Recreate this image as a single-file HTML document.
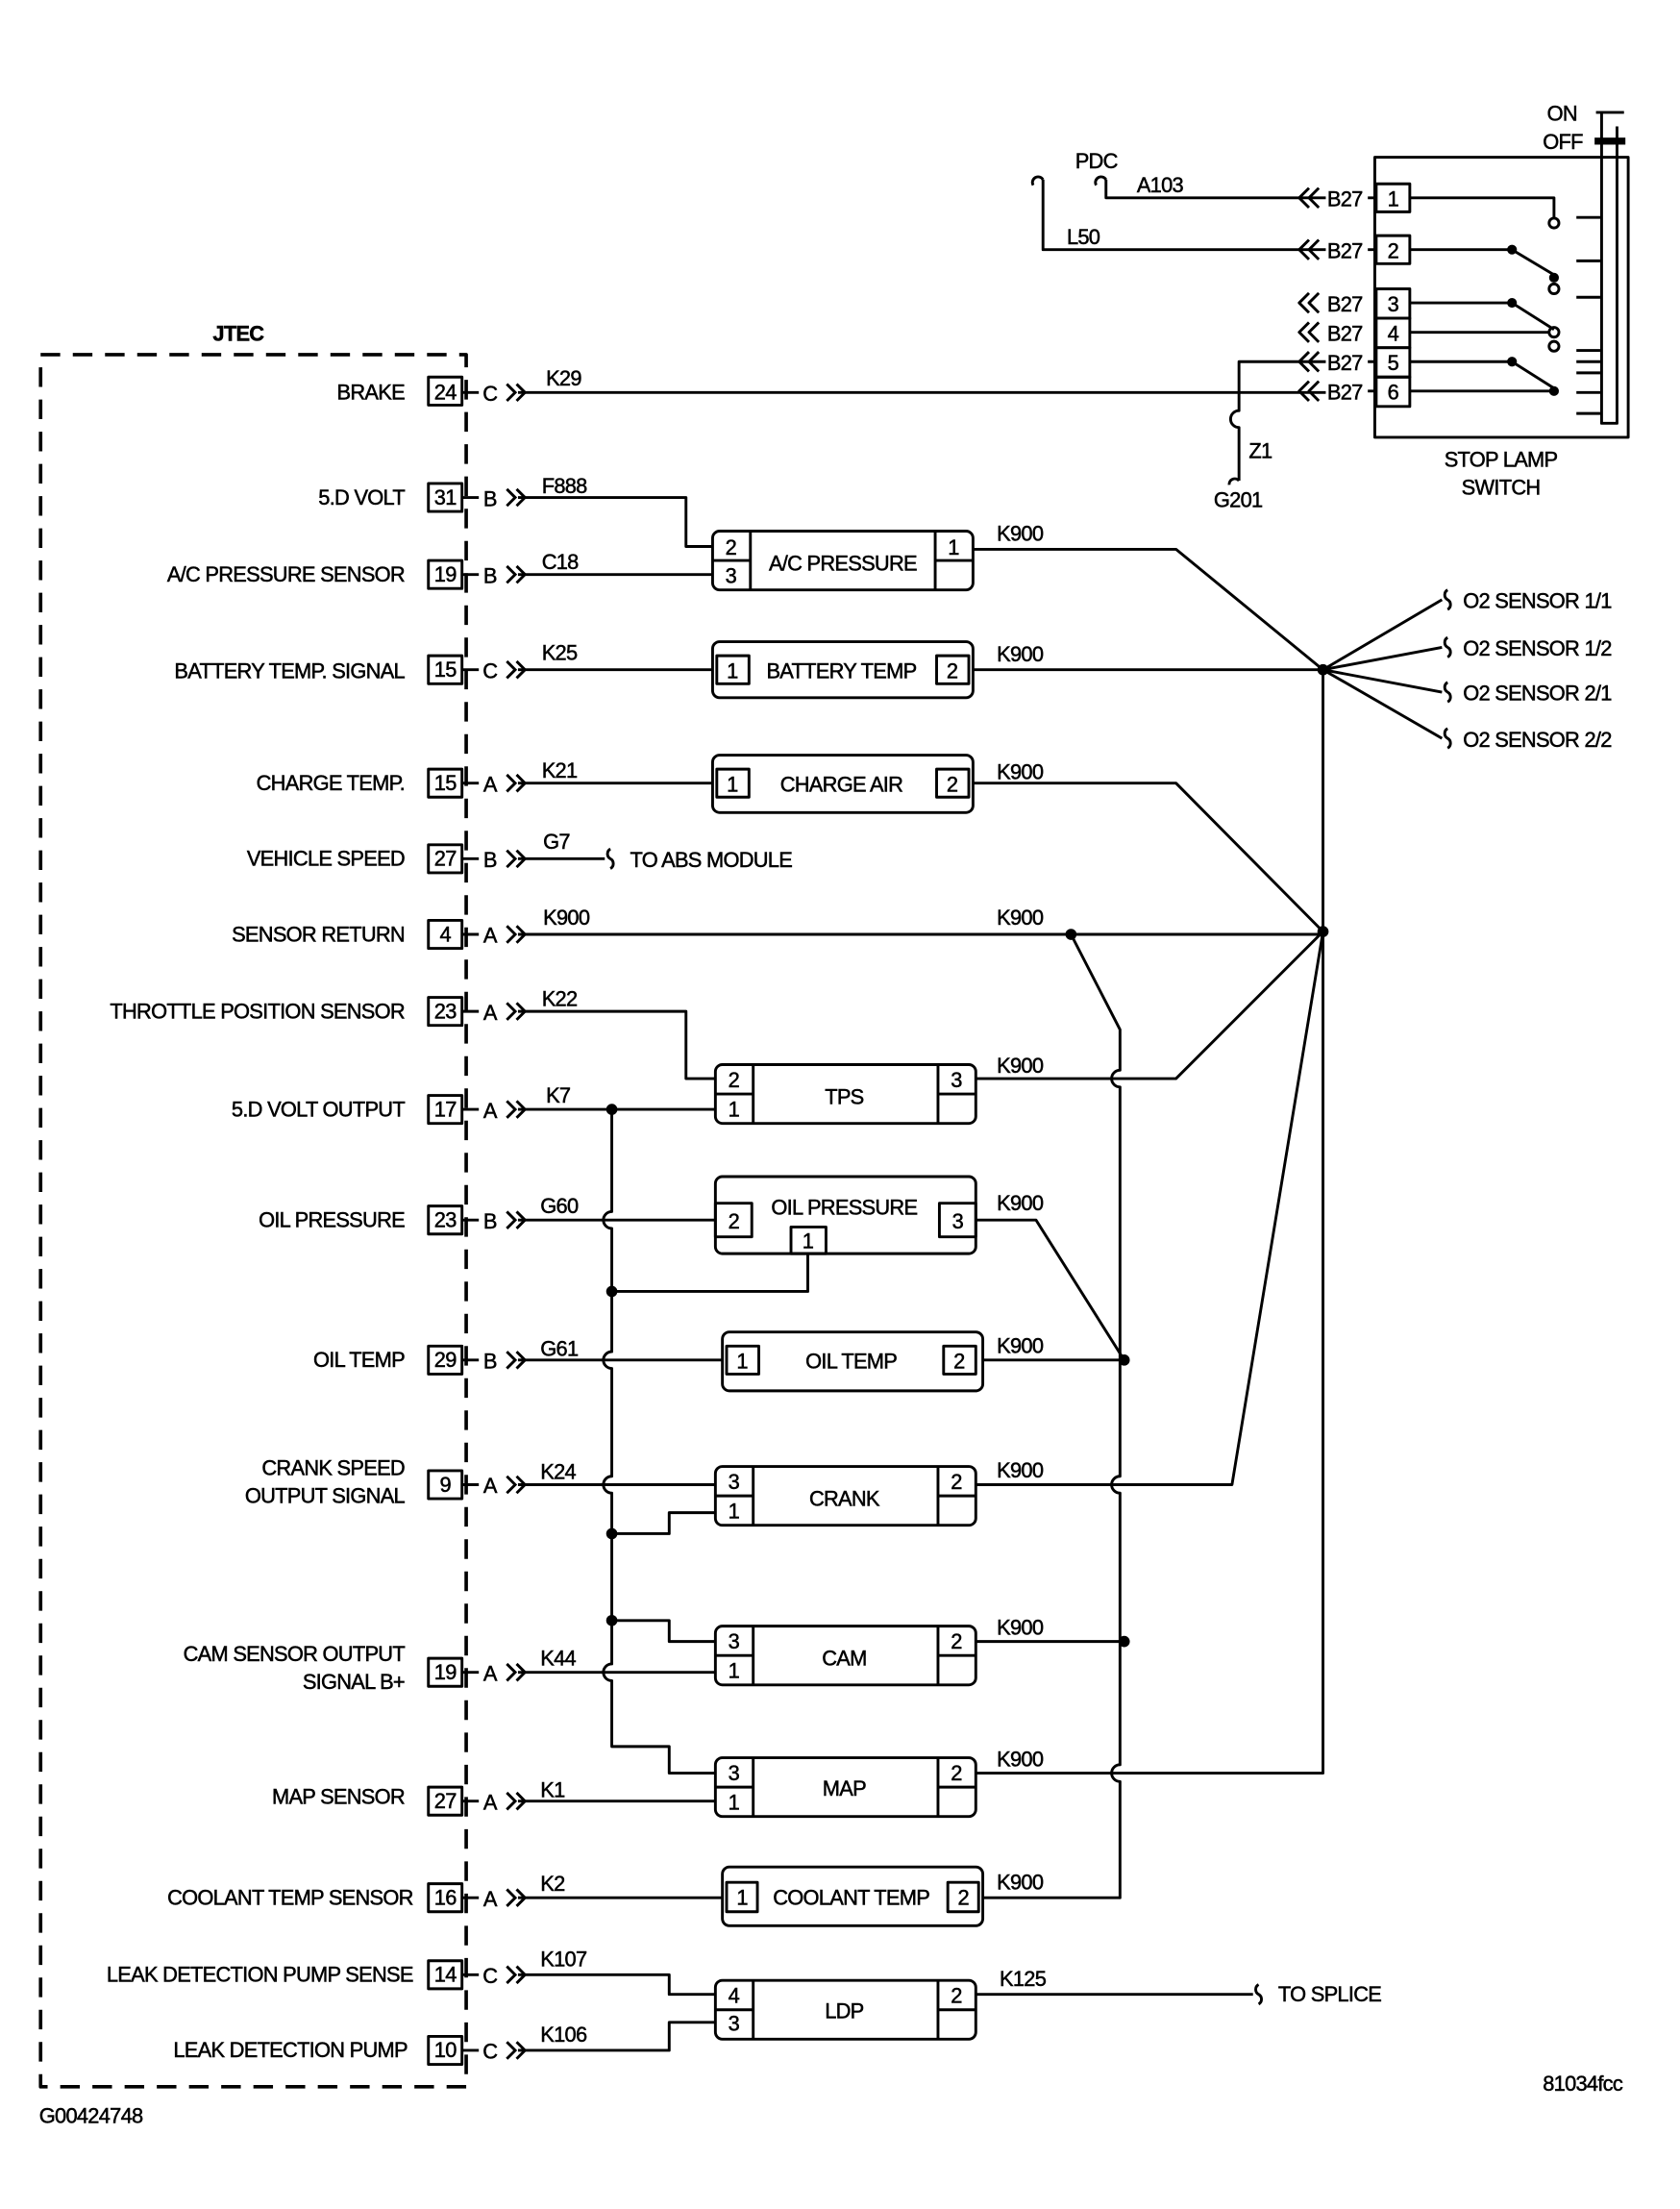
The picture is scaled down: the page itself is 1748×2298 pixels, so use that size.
<!DOCTYPE html>
<html><head><meta charset="utf-8"><style>
html,body{margin:0;padding:0;background:#fff}
svg{display:block}
text{font-family:"Liberation Sans",sans-serif;font-size:15px;fill:#000;stroke:#000;stroke-width:0.35px;letter-spacing:-0.5px}
.r{text-anchor:end}.m{text-anchor:middle}
</style></head><body>
<svg width="1748" height="2298" viewBox="0 0 1200 1577" xmlns="http://www.w3.org/2000/svg">
<g stroke="#000" stroke-width="2" fill="none" stroke-linejoin="round">
<rect x="29" y="253" width="304" height="1237" stroke-dasharray="14,9" stroke-width="2.5"/>
<rect x="306" y="269" width="24" height="20"/><rect x="306" y="345" width="24" height="20"/><rect x="306" y="400" width="24" height="20"/><rect x="306" y="468" width="24" height="20"/><rect x="306" y="549" width="24" height="20"/><rect x="306" y="603" width="24" height="20"/><rect x="306" y="657" width="24" height="20"/><rect x="306" y="712" width="24" height="20"/><rect x="306" y="782" width="24" height="20"/><rect x="306" y="861" width="24" height="20"/><rect x="306" y="961" width="24" height="20"/><rect x="306" y="1050" width="24" height="20"/><rect x="306" y="1184" width="24" height="20"/><rect x="306" y="1276" width="24" height="20"/><rect x="306" y="1345" width="24" height="20"/><rect x="306" y="1400" width="24" height="20"/><rect x="306" y="1454" width="24" height="20"/>
<path d="M330 280H342M330 355H342M330 410H342M330 478H342M330 559H342M330 613H342M330 667H342M330 722H342M330 792H342M330 871H342M330 971H342M330 1060H342M330 1194H342M330 1286H342M330 1355H342M330 1410H342M330 1464H342"/>
<path d="M370 280H947"/>
<path d="M370 355H490V390H509"/>
<path d="M370 410H509"/>
<path d="M370 478H509"/>
<path d="M370 559H509"/>
<path d="M370 613H432"/><path d="M436 606a4 4 0 0 0 0 7a4 4 0 0 1 0 7"/>
<path d="M370 667H945"/>
<path d="M370 722H490V770H511"/>
<path d="M370 792H511"/>
<path d="M370 871H511"/>
<path d="M370 971H516"/>
<path d="M370 1060H511"/>
<path d="M370 1194H511"/>
<path d="M370 1286H511"/>
<path d="M370 1355H516"/>
<path d="M370 1410H478V1424H511"/>
<path d="M370 1464H478V1444H511"/>
<path d="M437 792V865A6 6 0 0 0 437 877V965A6 6 0 0 0 437 977V1054A6 6 0 0 0 437 1066V1188A6 6 0 0 0 437 1200V1247H478V1266H511"/>
<path d="M577 895V922H437"/>
<path d="M511 1080H478V1095H437"/>
<path d="M511 1172H478V1157H437"/>
<path d="M765 667L800 735V764A6 6 0 0 0 800 776V1054A6 6 0 0 0 800 1066V1260A6 6 0 0 0 800 1272V1355H702"/>
<path d="M695 392H840L945 478"/>
<path d="M695 478H945"/>
<path d="M695 559H840L945 665"/>
<path d="M697 770H840L945 665"/>
<path d="M697 871H740L803 971"/>
<path d="M702 971H803"/>
<path d="M697 1060H880L945 665"/>
<path d="M697 1172H803"/>
<path d="M697 1266H945V478"/>
<path d="M697 1424H895"/><path d="M899 1417a4 4 0 0 0 0 7a4 4 0 0 1 0 7"/>
<path d="M945 478L1030 428M945 478L1030 462M945 478L1030 494M945 478L1030 527"/>
<path d="M1034 421a4 4 0 0 0 0 7a4 4 0 0 1 0 7M1034 455a4 4 0 0 0 0 7a4 4 0 0 1 0 7M1034 487a4 4 0 0 0 0 7a4 4 0 0 1 0 7M1034 520a4 4 0 0 0 0 7a4 4 0 0 1 0 7"/>
<rect x="509" y="379" width="186" height="42" rx="5"/><path d="M536 379V421M509 400H536M668 379V421M668 400H695"/>
<rect x="509" y="458" width="186" height="40" rx="5"/><rect x="512" y="468" width="23" height="20"/><rect x="669" y="468" width="23" height="20"/>
<rect x="509" y="539" width="186" height="41" rx="5"/><rect x="512" y="549" width="23" height="20"/><rect x="669" y="549" width="23" height="20"/>
<rect x="511" y="760" width="186" height="42" rx="5"/><path d="M538 760V802M511 781H538M670 760V802M670 781H697"/>
<rect x="511" y="840" width="186" height="55" rx="5"/><rect x="511" y="859" width="26" height="24"/><rect x="671" y="859" width="26" height="24"/><rect x="565" y="876" width="25" height="19"/>
<rect x="516" y="951" width="186" height="42" rx="5"/><rect x="519" y="961" width="23" height="20"/><rect x="674" y="961" width="23" height="20"/>
<rect x="511" y="1047" width="186" height="42" rx="5"/><path d="M538 1047V1089M511 1068H538M670 1047V1089M670 1068H697"/>
<rect x="511" y="1161" width="186" height="42" rx="5"/><path d="M538 1161V1203M511 1182H538M670 1161V1203M670 1182H697"/>
<rect x="511" y="1255" width="186" height="42" rx="5"/><path d="M538 1255V1297M511 1276H538M670 1255V1297M670 1276H697"/>
<rect x="516" y="1333" width="186" height="42" rx="5"/><rect x="519" y="1344" width="22" height="21"/><rect x="677" y="1344" width="22" height="21"/>
<rect x="511" y="1414" width="186" height="42" rx="5"/><path d="M538 1414V1456M511 1435H538M670 1414V1456M670 1435H697"/>
<rect x="982" y="112" width="181" height="200"/>
<rect x="983" y="131" width="24" height="20"/><rect x="983" y="168" width="24" height="20"/><rect x="983" y="206" width="24" height="21"/><rect x="983" y="227" width="24" height="21"/><rect x="983" y="248" width="24" height="21"/><rect x="983" y="269" width="24" height="21"/>
<path d="M790 128V141H947M745 128V178H947"/>
<path d="M783 132a4 4 0 0 1 7 -4M738 132a4 4 0 0 1 7 -4"/>
<path d="M885 343V305A6 6 0 0 1 885 293V258H947"/>
<path d="M878 346a4 4 0 0 1 7 -3"/>
<path d="M977 141H983M977 178H983M977 258H983M977 279H983"/>
<path d="M935 134l-7 7l7 7M942 134l-7 7l7 7M935 171l-7 7l7 7M942 171l-7 7l7 7M935 209l-7 7l7 7M942 209l-7 7l7 7M935 230l-7 7l7 7M942 230l-7 7l7 7M935 251l-7 7l7 7M942 251l-7 7l7 7M935 272l-7 7l7 7M942 272l-7 7l7 7"/>
<path d="M1007 141H1110V155M1007 178H1080L1110 196M1007 216H1080L1110 235M1007 237H1106M1007 258H1080L1110 277M1007 279H1110"/>
<circle cx="1110" cy="159" r="3.5"/><circle cx="1110" cy="206" r="3.5"/><circle cx="1110" cy="237" r="3.5"/><circle cx="1110" cy="247" r="3.5"/>
<path d="M1144 80V302H1155V90M1140 80H1160"/>
<path d="M1126 155H1143M1126 186H1143M1126 212H1143M1126 250H1143M1126 258H1143M1126 266H1143M1126 280H1143M1126 295H1143"/>
</g>
<g fill="#000">
<circle cx="1080" cy="178" r="3.5"/><circle cx="1110" cy="198" r="3.5"/><circle cx="1080" cy="216" r="3.5"/><circle cx="1080" cy="258" r="3.5"/><circle cx="1110" cy="279" r="3.5"/>
<rect x="1139" y="98" width="22" height="5"/>
<circle cx="945" cy="478" r="4"/><circle cx="945" cy="665" r="4"/><circle cx="765" cy="667" r="4"/><circle cx="437" cy="792" r="4"/><circle cx="437" cy="922" r="4"/><circle cx="437" cy="1095" r="4"/><circle cx="437" cy="1157" r="4"/><circle cx="803" cy="971" r="4"/><circle cx="803" cy="1172" r="4"/>
</g>
<g stroke="#000" stroke-width="2" fill="none">
<path d="M362 274l6 6l-6 6M369 274l6 6l-6 6M362 349l6 6l-6 6M369 349l6 6l-6 6M362 404l6 6l-6 6M369 404l6 6l-6 6M362 472l6 6l-6 6M369 472l6 6l-6 6M362 553l6 6l-6 6M369 553l6 6l-6 6M362 607l6 6l-6 6M369 607l6 6l-6 6M362 661l6 6l-6 6M369 661l6 6l-6 6M362 716l6 6l-6 6M369 716l6 6l-6 6M362 786l6 6l-6 6M369 786l6 6l-6 6M362 865l6 6l-6 6M369 865l6 6l-6 6M362 965l6 6l-6 6M369 965l6 6l-6 6M362 1054l6 6l-6 6M369 1054l6 6l-6 6M362 1188l6 6l-6 6M369 1188l6 6l-6 6M362 1280l6 6l-6 6M369 1280l6 6l-6 6M362 1349l6 6l-6 6M369 1349l6 6l-6 6M362 1404l6 6l-6 6M369 1404l6 6l-6 6M362 1458l6 6l-6 6M369 1458l6 6l-6 6"/>
</g>
<text x="152" y="243" font-weight="bold">JTEC</text>
<text class="r" x="289" y="285">BRAKE</text>
<text class="r" x="289" y="360">5.D VOLT</text>
<text class="r" x="289" y="415">A/C PRESSURE SENSOR</text>
<text class="r" x="289" y="484">BATTERY TEMP. SIGNAL</text>
<text class="r" x="289" y="564">CHARGE TEMP.</text>
<text class="r" x="289" y="618">VEHICLE SPEED</text>
<text class="r" x="289" y="672">SENSOR RETURN</text>
<text class="r" x="289" y="727">THROTTLE POSITION SENSOR</text>
<text class="r" x="289" y="797">5.D VOLT OUTPUT</text>
<text class="r" x="289" y="876">OIL PRESSURE</text>
<text class="r" x="289" y="976">OIL TEMP</text>
<text class="r" x="289" y="1053">CRANK SPEED</text>
<text class="r" x="289" y="1073">OUTPUT SIGNAL</text>
<text class="r" x="289" y="1186">CAM SENSOR OUTPUT</text>
<text class="r" x="289" y="1206">SIGNAL B+</text>
<text class="r" x="289" y="1288">MAP SENSOR</text>
<text class="r" x="295" y="1360">COOLANT TEMP SENSOR</text>
<text class="r" x="295" y="1415">LEAK DETECTION PUMP SENSE</text>
<text class="r" x="291" y="1469">LEAK DETECTION PUMP</text>
<text class="m" x="318" y="285">24</text><text class="m" x="318" y="360">31</text><text class="m" x="318" y="415">19</text><text class="m" x="318" y="483">15</text><text class="m" x="318" y="564">15</text><text class="m" x="318" y="618">27</text><text class="m" x="318" y="672">4</text><text class="m" x="318" y="727">23</text><text class="m" x="318" y="797">17</text><text class="m" x="318" y="876">23</text><text class="m" x="318" y="976">29</text><text class="m" x="318" y="1065">9</text><text class="m" x="318" y="1199">19</text><text class="m" x="318" y="1291">27</text><text class="m" x="318" y="1360">16</text><text class="m" x="318" y="1415">14</text><text class="m" x="318" y="1469">10</text>
<text class="m" x="350" y="286">C</text><text class="m" x="350" y="361">B</text><text class="m" x="350" y="416">B</text><text class="m" x="350" y="484">C</text><text class="m" x="350" y="565">A</text><text class="m" x="350" y="619">B</text><text class="m" x="350" y="673">A</text><text class="m" x="350" y="728">A</text><text class="m" x="350" y="798">A</text><text class="m" x="350" y="877">B</text><text class="m" x="350" y="977">B</text><text class="m" x="350" y="1066">A</text><text class="m" x="350" y="1200">A</text><text class="m" x="350" y="1292">A</text><text class="m" x="350" y="1361">A</text><text class="m" x="350" y="1416">C</text><text class="m" x="350" y="1470">C</text>
<text x="390" y="275">K29</text><text x="387" y="352">F888</text><text x="387" y="406">C18</text><text x="387" y="471">K25</text><text x="387" y="555">K21</text><text x="388" y="606">G7</text><text x="388" y="660">K900</text><text x="387" y="718">K22</text><text x="390" y="787">K7</text><text x="386" y="866">G60</text><text x="386" y="968">G61</text><text x="386" y="1056">K24</text><text x="386" y="1189">K44</text><text x="386" y="1283">K1</text><text x="386" y="1350">K2</text><text x="386" y="1404">K107</text><text x="386" y="1458">K106</text>
<text x="712" y="386">K900</text><text x="712" y="472">K900</text><text x="712" y="556">K900</text><text x="712" y="660">K900</text><text x="712" y="766">K900</text><text x="712" y="864">K900</text><text x="712" y="966">K900</text><text x="712" y="1055">K900</text><text x="712" y="1167">K900</text><text x="712" y="1261">K900</text><text x="712" y="1349">K900</text><text x="714" y="1418">K125</text>
<text x="450" y="619">TO ABS MODULE</text><text x="913" y="1429">TO SPLICE</text>
<text x="1045" y="434">O2 SENSOR 1/1</text><text x="1045" y="468">O2 SENSOR 1/2</text><text x="1045" y="500">O2 SENSOR 2/1</text><text x="1045" y="533">O2 SENSOR 2/2</text>
<text class="m" x="522" y="396">2</text><text class="m" x="522" y="416">3</text><text class="m" x="681" y="396">1</text><text class="m" x="602" y="407">A/C PRESSURE</text>
<text class="m" x="523" y="484">1</text><text class="m" x="680" y="484">2</text><text class="m" x="601" y="484">BATTERY TEMP</text>
<text class="m" x="523" y="565">1</text><text class="m" x="680" y="565">2</text><text class="m" x="601" y="565">CHARGE AIR</text>
<text class="m" x="524" y="776">2</text><text class="m" x="524" y="797">1</text><text class="m" x="683" y="776">3</text><text class="m" x="603" y="788">TPS</text>
<text class="m" x="524" y="877">2</text><text class="m" x="684" y="877">3</text><text class="m" x="577" y="891">1</text><text class="m" x="603" y="867">OIL PRESSURE</text>
<text class="m" x="530" y="977">1</text><text class="m" x="685" y="977">2</text><text class="m" x="608" y="977">OIL TEMP</text>
<text class="m" x="524" y="1063">3</text><text class="m" x="524" y="1084">1</text><text class="m" x="683" y="1063">2</text><text class="m" x="603" y="1075">CRANK</text>
<text class="m" x="524" y="1177">3</text><text class="m" x="524" y="1198">1</text><text class="m" x="683" y="1177">2</text><text class="m" x="603" y="1189">CAM</text>
<text class="m" x="524" y="1271">3</text><text class="m" x="524" y="1292">1</text><text class="m" x="683" y="1271">2</text><text class="m" x="603" y="1282">MAP</text>
<text class="m" x="530" y="1360">1</text><text class="m" x="688" y="1360">2</text><text class="m" x="608" y="1360">COOLANT TEMP</text>
<text class="m" x="524" y="1430">4</text><text class="m" x="524" y="1450">3</text><text class="m" x="683" y="1430">2</text><text class="m" x="603" y="1441">LDP</text>
<text x="768" y="120">PDC</text><text x="812" y="137">A103</text><text x="762" y="174">L50</text>
<text x="948" y="147">B27</text><text x="948" y="184">B27</text><text x="948" y="222">B27</text><text x="948" y="243">B27</text><text x="948" y="264">B27</text><text x="948" y="285">B27</text>
<text class="m" x="995" y="147">1</text><text class="m" x="995" y="184">2</text><text class="m" x="995" y="222">3</text><text class="m" x="995" y="243">4</text><text class="m" x="995" y="264">5</text><text class="m" x="995" y="285">6</text>
<text x="1105" y="86">ON</text><text x="1102" y="106">OFF</text>
<text x="892" y="327">Z1</text><text x="867" y="362">G201</text>
<text class="m" x="1072" y="333">STOP LAMP</text><text class="m" x="1072" y="353">SWITCH</text>
<text x="1102" y="1493" font-size="14">81034fcc</text>
<text x="28" y="1516" font-size="14">G00424748</text>
</svg>
</body></html>
